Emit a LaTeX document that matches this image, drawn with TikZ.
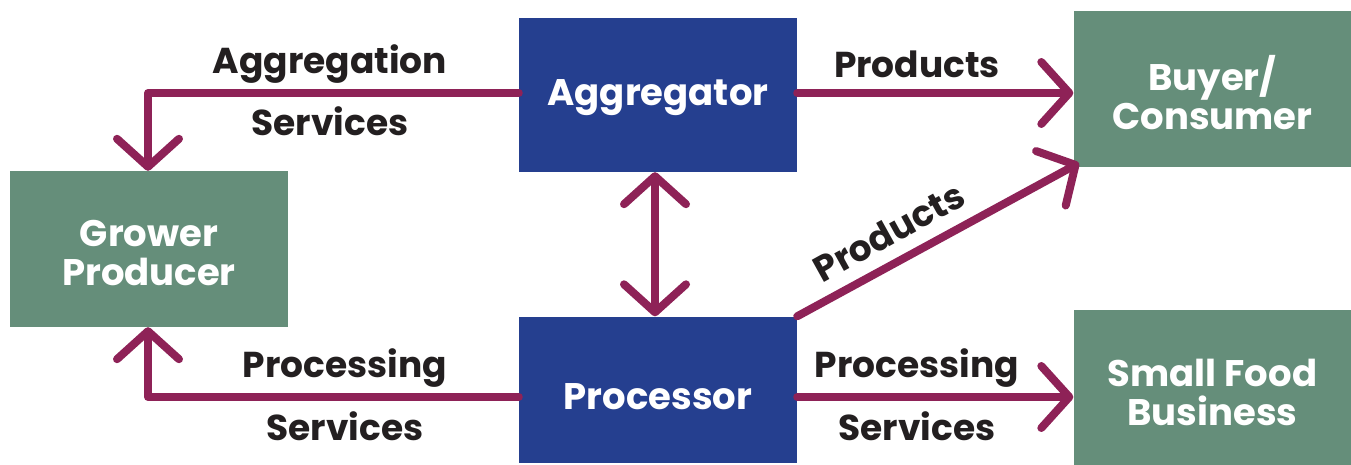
\documentclass[tikz,border=0pt]{standalone}
\usepackage{fontspec}
\setmainfont{Poppins}
\usetikzlibrary{arrows.meta}
\definecolor{gbox}{HTML}{658E7A}
\definecolor{bbox}{HTML}{253F8F}
\definecolor{arr}{HTML}{8E2257}
\definecolor{txt}{HTML}{231F20}
\begin{document}
\begin{tikzpicture}[x=1pt,y=-1pt,
  greenbox/.style={fill=gbox,minimum width=278pt,minimum height=156pt,inner sep=0pt,text=white,font=\fontsize{37}{39}\selectfont\bfseries,align=center},
  bluebox/.style={fill=bbox,minimum width=278pt,minimum height=154pt,inner sep=0pt,text=white,font=\fontsize{37}{39}\selectfont\bfseries,align=center},
  conn/.style={draw=arr,line width=8pt,line join=round,line cap=round,-{Straight Barb[length=28pt,width=62pt,round]}},
  lbl/.style={text=txt,font=\fontsize{36}{38}\selectfont\bfseries,inner sep=0pt}]
\useasboundingbox (0,0) rectangle (1351,465);
\node[bluebox] (agg) at (658,95) {};
\node[bluebox,minimum height=146pt] (proc) at (658,389.5) {};
\node[greenbox] (grow) at (149,249) {};
\node[greenbox] (buy) at (1212.5,89) {};
\node[greenbox] (sfb) at (1212.5,387.5) {};
\node[text=white,font=\fontsize{37}{39}\selectfont\bfseries,align=center] (aggt) at (658,98) {Aggregator};
\node[text=white,font=\fontsize{37}{39}\selectfont\bfseries,align=center] (proct) at (658,397) {Processor};
\node[text=white,font=\fontsize{37}{39}\selectfont\bfseries,align=center] (growt) at (149,253) {Grower\\Producer};
\node[text=white,font=\fontsize{37}{39}\selectfont\bfseries,align=center] (buyt) at (1212.5,93) {Buyer/\\Consumer};
\node[text=white,font=\fontsize{37}{39}\selectfont\bfseries,align=center] (sfbt) at (1212.5,392) {Small Food\\Business};
\draw[conn] (agg.west|-0,93) -| (grow.north-|148,0);
\draw[conn] (proc.west|-0,397) -| (grow.south-|148,0);
\draw[conn] (agg.east|-0,93) -- (buy.west|-0,93);
\draw[conn] (proc.east|-0,397) -- (sfb.west|-0,397);
\draw[conn,{Straight Barb[length=28pt,width=62pt,round]}-{Straight Barb[length=28pt,width=62pt,round]}] (agg.south-|655,0) -- (proc.north-|655,0);
\coordinate (dtip) at (1079,163);
\draw[conn] (proc.north east) -- (dtip);
\node[lbl] (l1) at (330,64) {Aggregation};
\node[lbl] (l2) at (330,121) {Services};
\node[lbl] (l3) at (917,64) {Products};
\node[lbl] (l4) at (345,368) {Processing};
\node[lbl] (l5) at (345,426) {Services};
\node[lbl] (l6) at (917,368) {Processing};
\node[lbl] (l7) at (917,426) {Services};
\node[lbl,rotate=29] (l8) at (889,232) {Products};
\end{tikzpicture}
\end{document}
